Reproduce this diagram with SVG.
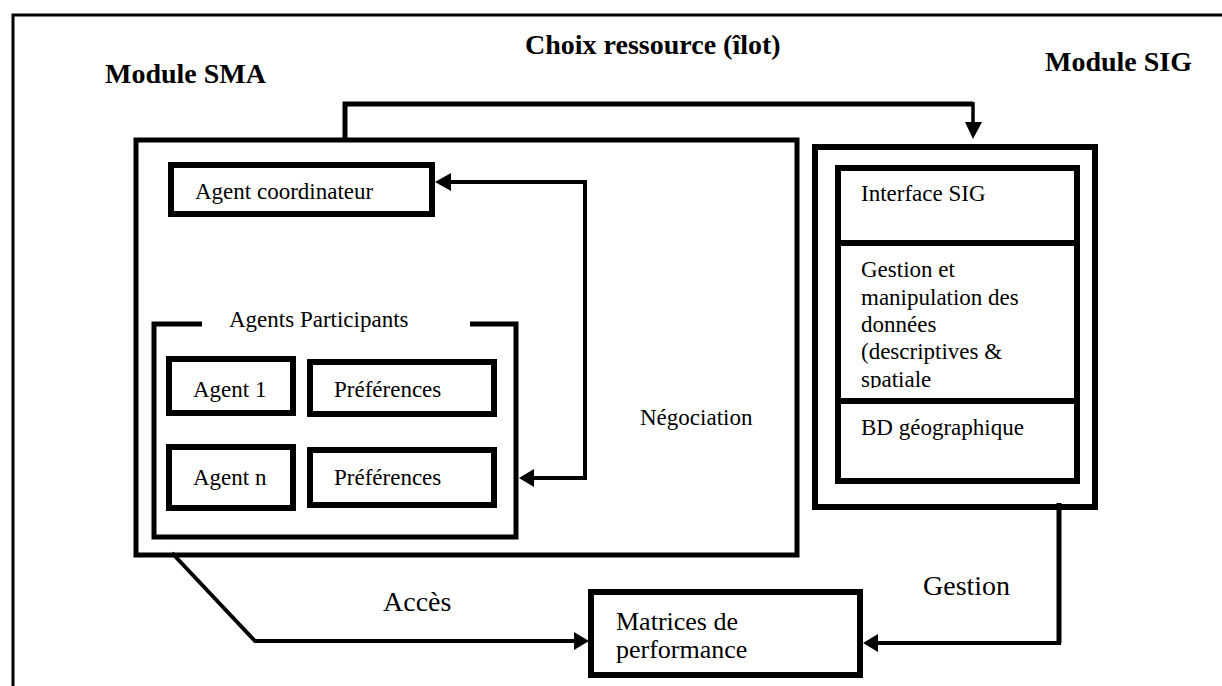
<svg xmlns="http://www.w3.org/2000/svg" width="1222" height="686" viewBox="0 0 1222 686">
<style>
  .t { font-family: "Liberation Serif", "Times New Roman", serif; font-size: 23px; fill: #000; }
  .h { font-family: "Liberation Serif", "Times New Roman", serif; font-size: 28px; font-weight: bold; fill: #000; }
  .l { font-family: "Liberation Serif", "Times New Roman", serif; font-size: 28px; fill: #000; }
  .m { font-family: "Liberation Serif", "Times New Roman", serif; font-size: 26px; fill: #000; }
  .box { fill: #fff; stroke: #000; stroke-width: 6; }
  .thin { fill: none; stroke: #000; stroke-width: 5; }
  .conn { fill: none; stroke: #000; stroke-width: 4; stroke-linejoin: miter; }
  .head { fill: #000; stroke: none; }
</style>
<defs>
  <clipPath id="clipGest"><rect x="840" y="245" width="234" height="143"/></clipPath>
</defs>
<rect x="0" y="0" width="1222" height="686" fill="#fff"/>
<path d="M13,686 V15 H1222" fill="none" stroke="#000" stroke-width="3"/>

<text class="h" x="105" y="83">Module SMA</text>
<text class="h" x="525" y="54">Choix ressource (îlot)</text>
<text class="h" x="1045" y="71">Module SIG</text>

<g id="module-sma">
  <rect class="thin" x="136" y="140" width="661" height="415"/>
  <text class="t" x="640" y="425">Négociation</text>
</g>
<g id="agent-coordinateur">
  <rect class="box" x="171" y="165" width="261" height="49"/>
  <text class="t" x="195" y="199">Agent coordinateur</text>
</g>
<g id="agents-participants">
  <path class="thin" d="M202,324 H154 V537 H516 V324 H470"/>
  <text class="t" x="229" y="327">Agents Participants</text>
</g>
<g id="agent-1">
  <rect class="box" x="169" y="359" width="124" height="54"/>
  <text class="t" x="193" y="397">Agent 1</text>
</g>
<g id="preferences-1">
  <rect class="box" x="310" y="362" width="184" height="52"/>
  <text class="t" x="334" y="397">Préférences</text>
</g>
<g id="agent-n">
  <rect class="box" x="169" y="447" width="124" height="61"/>
  <text class="t" x="193" y="485">Agent n</text>
</g>
<g id="preferences-n">
  <rect class="box" x="310" y="450" width="184" height="55"/>
  <text class="t" x="334" y="485">Préférences</text>
</g>

<g id="module-sig">
  <rect class="box" x="815" y="147" width="280" height="360"/>
  <rect class="box" x="838" y="168" width="239" height="313"/>
  <line x1="838" y1="243" x2="1077" y2="243" stroke="#000" stroke-width="6"/>
  <line x1="838" y1="401" x2="1077" y2="401" stroke="#000" stroke-width="6"/>
</g>
<g id="interface-sig">
  <text class="t" x="861" y="201">Interface SIG</text>
</g>
<g id="gestion-donnees">
  <g clip-path="url(#clipGest)">
    <text class="t" x="861" y="277">Gestion et</text>
    <text class="t" x="861" y="305">manipulation des</text>
    <text class="t" x="861" y="332">données</text>
    <text class="t" x="861" y="359">(descriptives &amp;</text>
    <text class="t" x="861" y="387">spatiale</text>
  </g>
</g>
<g id="bd-geographique">
  <text class="t" x="861" y="435">BD géographique</text>
</g>

<g id="matrices">
  <rect class="box" x="591" y="592" width="269" height="83"/>
  <text class="m" x="616" y="630">Matrices de</text>
  <text class="m" x="616" y="658">performance</text>
</g>

<g id="connectors">
  <!-- Choix ressource -->
  <path d="M345,138 V104 H973" fill="none" stroke="#000" stroke-width="5"/>
  <path d="M973,102 V124" fill="none" stroke="#000" stroke-width="3.5"/>
  <polygon class="head" points="965,122 982,122 973,139"/>
  <!-- Negociation -->
  <path class="conn" d="M448,182 H585 V478 H530"/>
  <polygon class="head" points="435,182 451,173 451,191"/>
  <polygon class="head" points="519,478 534,469 534,487"/>
  <!-- Acces -->
  <path class="conn" d="M172,553 L255,641 H576"/>
  <polygon class="head" points="589,641 574,632 574,650"/>
  <text class="l" x="383" y="611">Accès</text>
  <!-- Gestion -->
  <path d="M1059,503 V643" fill="none" stroke="#000" stroke-width="5"/>
  <path class="conn" d="M1061,643 H876"/>
  <polygon class="head" points="863,643 878,634 878,652"/>
  <text class="l" x="923" y="595">Gestion</text>
</g>
</svg>
